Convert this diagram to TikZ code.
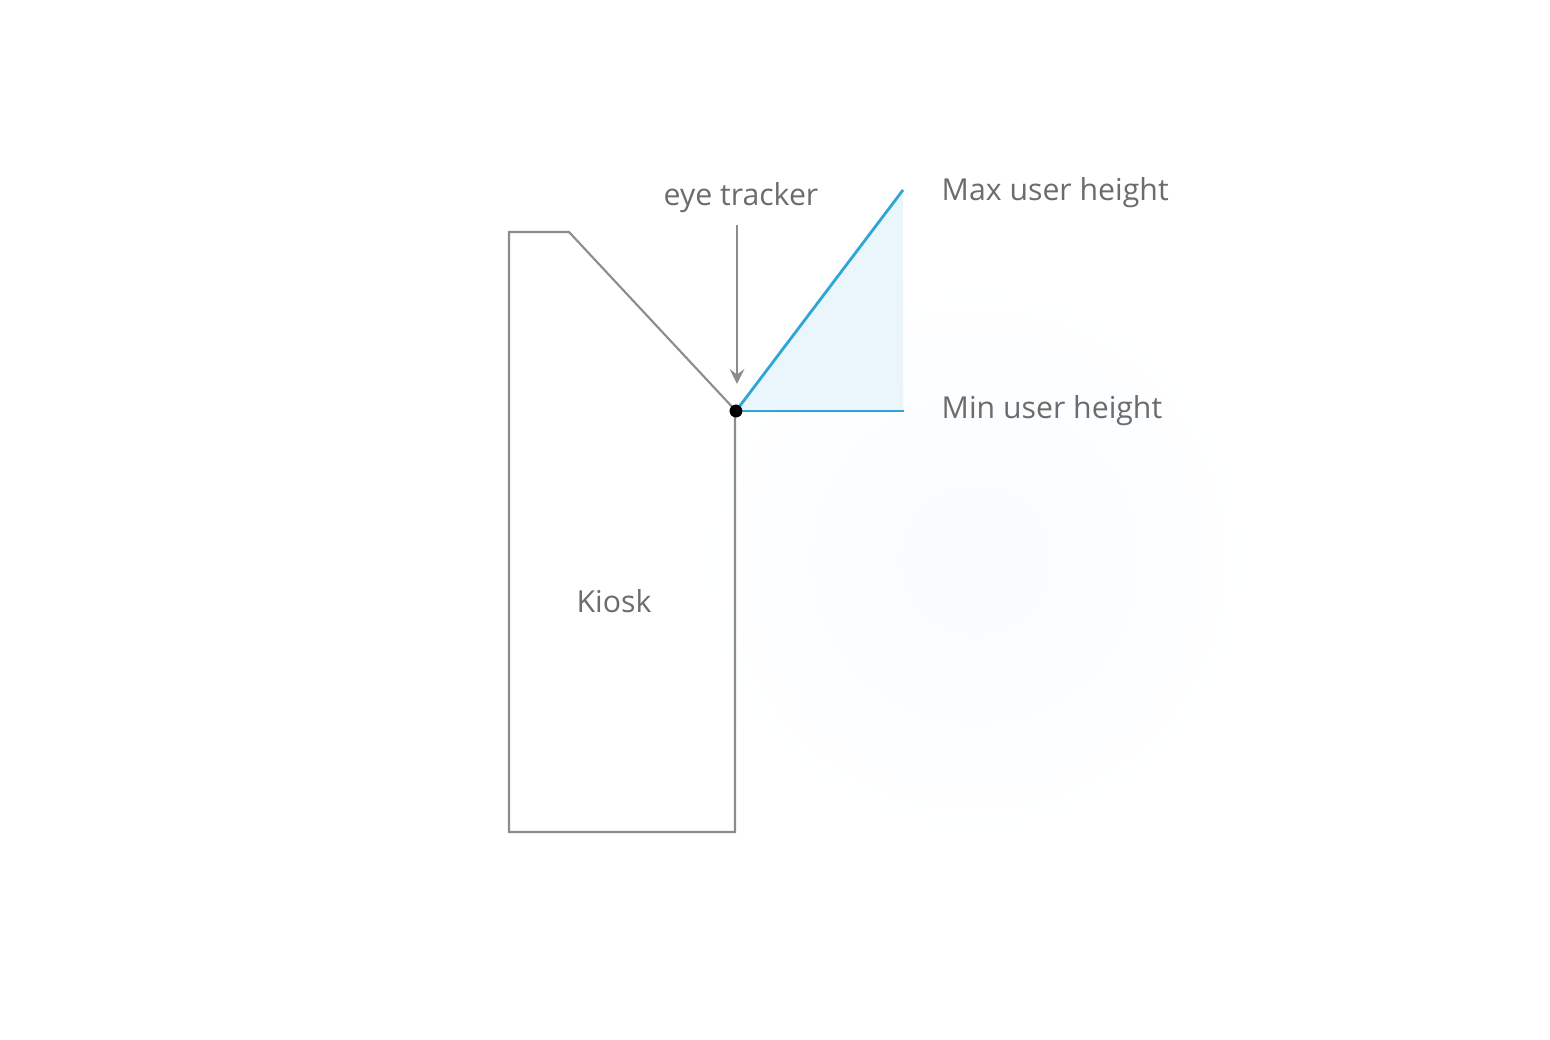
\documentclass[tikz,border=0pt]{standalone}
\usepackage{fontspec}
\setmainfont{Open Sans}
\usetikzlibrary{positioning}
\definecolor{kioskgray}{RGB}{140,140,140}
\definecolor{labelgray}{RGB}{108,108,108}
\definecolor{rangeblue}{RGB}{46,166,214}
\definecolor{rangefill}{RGB}{234,245,252}

\tikzset{
  label text/.style={text=labelgray,font=\fontsize{8.6}{10}\selectfont,inner sep=0pt},
  range line/.style={draw=rangeblue,line width=0.8pt}
}

\begin{document}
\begin{tikzpicture}[x=0.01cm,y=-0.01cm]
\useasboundingbox (0,0) rectangle (1550,1040);
% faint glow behind the picture
\shade[inner color=rangefill!35,outer color=white] (975,560) circle (290);
% kiosk body
\draw[kioskgray,line width=0.6pt] (736,411) -- (569,232) -- (509,232) -- (509,832) -- (735,832) -- (735,411);
\node[label text] (kiosk) at (614,601) {Kiosk};
% viewing range
\coordinate (maxpt) at (903,190);
\coordinate (minpt) at (904,411);
\node[circle,fill=black,inner sep=0pt,minimum size=3.6pt] (tracker) at (736,411) {};
\fill[rangefill] (tracker.center) -- (maxpt) -- (903,411) -- cycle;
\draw[range line] (tracker.center) -- (maxpt);
\draw[range line] (tracker.center) -- (minpt);
\node[circle,fill=black,inner sep=0pt,minimum size=3.6pt] at (tracker) {};
\node[label text,anchor=west] (maxlabel) at (941,193) {Max user height};
\node[label text,anchor=west] (minlabel) at (941,411) {Min user height};
% eye tracker
\node[label text] (trackerlabel) at (741,198) {eye tracker};
\coordinate (arrowstart) at (737,225);
\draw[-stealth,draw=kioskgray,line width=0.85pt,shorten >=0.2cm] (arrowstart) -- (tracker.north -| arrowstart);
\end{tikzpicture}
\end{document}
